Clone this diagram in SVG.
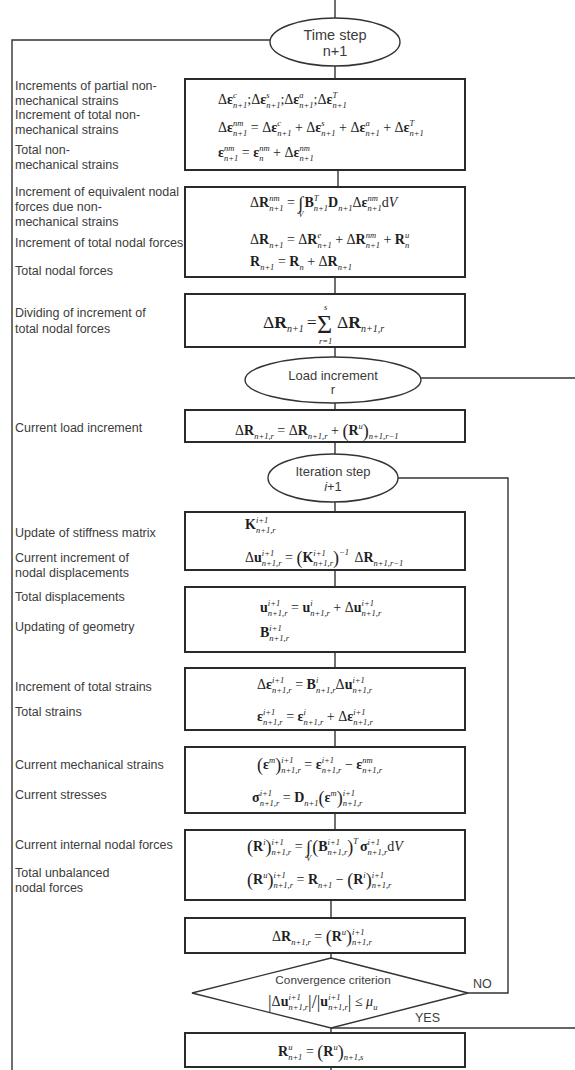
<svg xmlns="http://www.w3.org/2000/svg" width="575" height="1070" viewBox="0 0 575 1070">
<style>
.ln{fill:none;stroke:#333;stroke-width:1.4}
.bx{fill:#fff;stroke:#2a2a2a;stroke-width:2}
.el{fill:#fff;stroke:#333;stroke-width:1.4}
.lb{font-family:"Liberation Sans",Arial,sans-serif;font-size:12.5px;fill:#3c3c3c}
.et{font-family:"Liberation Sans",Arial,sans-serif;font-size:13px;fill:#3c3c3c;text-anchor:middle}
.fm{font-family:"Liberation Serif","Times New Roman",serif;font-size:14px;fill:#1e1e1e}
.b{font-weight:bold}
.s{font-size:8.5px;font-style:italic;font-weight:normal}
.s2{font-size:10px;font-style:italic;font-weight:normal}
.p{font-size:18px;font-weight:normal}
</style>
<rect width="575" height="1070" fill="#fff"/>
<g id="connectors">
<path class="ln" d="M335 0V18"/>
<path class="ln" d="M270 40H12V1070"/>
<path class="ln" d="M335 66V79"/>
<path class="ln" d="M338 170V187"/>
<path class="ln" d="M335 277V294"/>
<path class="ln" d="M335 347V357"/>
<path class="ln" d="M421 378H575"/>
<path class="ln" d="M335 403V410"/>
<path class="ln" d="M335 442V454"/>
<path class="ln" d="M398 478H508V993H468"/>
<path class="ln" d="M335 502V512"/>
<path class="ln" d="M335 570V587"/>
<path class="ln" d="M335 652V668"/>
<path class="ln" d="M335 730V747"/>
<path class="ln" d="M335 813V830"/>
<path class="ln" d="M331 900V918"/>
<path class="ln" d="M331 953V958"/>
<path class="ln" d="M331 1028H575"/>
<path class="ln" d="M331 1028V1033"/>
<path class="ln" d="M331 1067V1070"/>
<text class="lb" x="473" y="988">NO</text>
<text class="lb" x="415" y="1022">YES</text>
</g>
<g id="n-time">
<ellipse class="el" cx="335" cy="42" rx="65" ry="24"/>
<text class="et" x="335" y="40" style="font-size:14.5px">Time step</text>
<text class="et" x="335" y="56" style="font-size:14.5px">n+1</text>
</g>
<g id="n-strains">
<rect class="bx" x="185" y="79" width="280" height="91"/>
<text class="lb" x="15" y="90">Increments of partial non-</text>
<text class="lb" x="15" y="105">mechanical strains</text>
<text class="lb" x="15" y="119">Increment of total non-</text>
<text class="lb" x="15" y="134">mechanical strains</text>
<text class="lb" x="15" y="154">Total non-</text>
<text class="lb" x="15" y="169">mechanical strains</text>
<text class="fm" x="218" y="104">Δ<tspan class="b">ε</tspan><tspan class="s" dy="4">n+1</tspan><tspan class="s" dx="-14.24" dy="-10.5">c</tspan><tspan dx="10.47" dy="6.5">;Δ</tspan><tspan class="b">ε</tspan><tspan class="s" dy="4">n+1</tspan><tspan class="s" dx="-14.24" dy="-10.5">s</tspan><tspan dx="10.93" dy="6.5">;Δ</tspan><tspan class="b">ε</tspan><tspan class="s" dy="4">n+1</tspan><tspan class="s" dx="-14.24" dy="-10.5">a</tspan><tspan dx="9.99" dy="6.5">;Δ</tspan><tspan class="b">ε</tspan><tspan class="s" dy="4">n+1</tspan><tspan class="s" dx="-14.24" dy="-10.5">T</tspan></text>
<text class="fm" x="218" y="132">Δ<tspan class="b">ε</tspan><tspan class="s" dy="4">n+1</tspan><tspan class="s" dx="-14.24" dy="-10.5">nm</tspan><tspan dx="3.85" dy="6.5"> = Δ</tspan><tspan class="b">ε</tspan><tspan class="s" dy="4">n+1</tspan><tspan class="s" dx="-14.24" dy="-10.5">c</tspan><tspan dx="10.47" dy="6.5"> + Δ</tspan><tspan class="b">ε</tspan><tspan class="s" dy="4">n+1</tspan><tspan class="s" dx="-14.24" dy="-10.5">s</tspan><tspan dx="10.93" dy="6.5"> + Δ</tspan><tspan class="b">ε</tspan><tspan class="s" dy="4">n+1</tspan><tspan class="s" dx="-14.24" dy="-10.5">a</tspan><tspan dx="9.99" dy="6.5"> + Δ</tspan><tspan class="b">ε</tspan><tspan class="s" dy="4">n+1</tspan><tspan class="s" dx="-14.24" dy="-10.5">T</tspan></text>
<text class="fm" x="218" y="157"><tspan class="b">ε</tspan><tspan class="s" dy="4">n+1</tspan><tspan class="s" dx="-14.24" dy="-10.5">nm</tspan><tspan dx="3.85" dy="6.5"> = </tspan><tspan class="b">ε</tspan><tspan class="s" dy="4">n</tspan><tspan class="s" dx="-4.25" dy="-10.5">nm</tspan><tspan dy="6.5"> + Δ</tspan><tspan class="b">ε</tspan><tspan class="s" dy="4">n+1</tspan><tspan class="s" dx="-14.24" dy="-10.5">nm</tspan></text>
</g>
<g id="n-forces">
<rect class="bx" x="185" y="187" width="280" height="90"/>
<text class="lb" x="15" y="196">Increment of equivalent nodal</text>
<text class="lb" x="15" y="211">forces due non-</text>
<text class="lb" x="15" y="226">mechanical strains</text>
<text class="lb" x="15" y="247">Increment of total nodal forces</text>
<text class="lb" x="15" y="275">Total nodal forces</text>
<text class="fm" x="250" y="207">Δ<tspan class="b">R</tspan><tspan class="s" dy="4">n+1</tspan><tspan class="s" dx="-14.24" dy="-10.5">nm</tspan><tspan dx="3.85" dy="6.5"> = </tspan><tspan class="p" dy="2">∫</tspan><tspan class="s" dx="-5" dy="8">V</tspan><tspan class="b" dx="1" dy="-10">B</tspan><tspan class="s" dy="4">n+1</tspan><tspan class="s" dx="-14.24" dy="-10.5">T</tspan><tspan class="b" dx="9.51" dy="6.5">D</tspan><tspan class="s" dy="4">n+1</tspan><tspan dy="-4">Δ</tspan><tspan class="b">ε</tspan><tspan class="s" dy="4">n+1</tspan><tspan class="s" dx="-14.24" dy="-10.5">nm</tspan><tspan dx="3.85" dy="6.5">d</tspan><tspan font-style="italic">V</tspan></text>
<text class="fm" x="250" y="244">Δ<tspan class="b">R</tspan><tspan class="s" dy="4">n+1</tspan><tspan dy="-4"> = Δ</tspan><tspan class="b">R</tspan><tspan class="s" dy="4">n+1</tspan><tspan class="s" dx="-14.24" dy="-10.5">e</tspan><tspan dx="10.47" dy="6.5"> + Δ</tspan><tspan class="b">R</tspan><tspan class="s" dy="4">n+1</tspan><tspan class="s" dx="-14.24" dy="-10.5">nm</tspan><tspan dx="3.85" dy="6.5"> + </tspan><tspan class="b">R</tspan><tspan class="s" dy="4">n</tspan><tspan class="s" dx="-4.25" dy="-10.5">u</tspan></text>
<text class="fm" x="250" y="266"><tspan class="b">R</tspan><tspan class="s" dy="4">n+1</tspan><tspan dy="-4"> = </tspan><tspan class="b">R</tspan><tspan class="s" dy="4">n</tspan><tspan dy="-4"> + Δ</tspan><tspan class="b">R</tspan><tspan class="s" dy="4">n+1</tspan></text>
</g>
<g id="n-divide">
<rect class="bx" x="185" y="294" width="280" height="53"/>
<text class="lb" x="15" y="317">Dividing of increment of</text>
<text class="lb" x="15" y="333">total nodal forces</text>
<text class="fm" x="263" y="328" style="font-size:17.5px">Δ<tspan class="b">R</tspan><tspan class="s2" dy="4">n+1</tspan><tspan dx="3" dy="-4">=</tspan></text>
<text class="fm" x="317" y="333" style="font-size:26px">Σ</text>
<text class="fm s" x="324" y="310">s</text>
<text class="fm s" x="319" y="344">r=1</text>
<text class="fm" x="337" y="328" style="font-size:17.5px">Δ<tspan class="b">R</tspan><tspan class="s2" dy="4">n+1,r</tspan></text>
</g>
<g id="n-load">
<ellipse class="el" cx="333" cy="380" rx="88" ry="23"/>
<text class="et" x="333" y="380">Load increment</text>
<text class="et" x="333" y="394">r</text>
</g>
<g id="n-current-load">
<rect class="bx" x="185" y="410" width="280" height="32"/>
<text class="lb" x="15" y="432">Current load increment</text>
<text class="fm" x="235" y="435">Δ<tspan class="b">R</tspan><tspan class="s" dy="4">n+1,r</tspan><tspan dy="-4"> = Δ</tspan><tspan class="b">R</tspan><tspan class="s" dy="4">n+1,r</tspan><tspan dy="-4"> + </tspan><tspan class="p" dy="1.5">(</tspan><tspan class="b" dy="-1.5">R</tspan><tspan class="s" dy="-6.5">u</tspan><tspan class="p" dy="8">)</tspan><tspan class="s" dy="2.5">n+1,r−1</tspan></text>
</g>
<g id="n-iter">
<ellipse class="el" cx="333" cy="478" rx="65" ry="24"/>
<text class="et" x="333" y="476">Iteration step</text>
<text class="et" x="333" y="491"><tspan font-style="italic">i</tspan>+1</text>
</g>
<g id="n-stiff">
<rect class="bx" x="185" y="512" width="280" height="58"/>
<text class="lb" x="15" y="537">Update of stiffness matrix</text>
<text class="lb" x="15" y="562">Current increment of</text>
<text class="lb" x="15" y="577">nodal displacements</text>
<text class="fm" x="245" y="529"><tspan class="b">K</tspan><tspan class="s" dy="4">n+1,r</tspan><tspan class="s" dx="-19.67" dy="-10.5">i+1</tspan></text>
<text class="fm" x="245" y="562">Δ<tspan class="b">u</tspan><tspan class="s" dy="4">n+1,r</tspan><tspan class="s" dx="-19.67" dy="-10.5">i+1</tspan><tspan dx="7.32" dy="6.5"> = </tspan><tspan class="p" dy="1.5">(</tspan><tspan class="b" dy="-1.5">K</tspan><tspan class="s" dy="4">n+1,r</tspan><tspan class="s" dx="-19.67" dy="-10.5">i+1</tspan><tspan class="p" dx="7.32" dy="8">)</tspan><tspan class="s" dy="-9">−1</tspan><tspan dx="2" dy="7.5"> Δ</tspan><tspan class="b">R</tspan><tspan class="s" dy="4">n+1,r−1</tspan></text>
</g>
<g id="n-displ">
<rect class="bx" x="185" y="587" width="280" height="65"/>
<text class="lb" x="15" y="601">Total displacements</text>
<text class="lb" x="15" y="631">Updating of geometry</text>
<text class="fm" x="260" y="612"><tspan class="b">u</tspan><tspan class="s" dy="4">n+1,r</tspan><tspan class="s" dx="-19.67" dy="-10.5">i+1</tspan><tspan dx="7.32" dy="6.5"> = </tspan><tspan class="b">u</tspan><tspan class="s" dy="4">n+1,r</tspan><tspan class="s" dx="-19.67" dy="-10.5">i</tspan><tspan dx="17.31" dy="6.5"> + Δ</tspan><tspan class="b">u</tspan><tspan class="s" dy="4">n+1,r</tspan><tspan class="s" dx="-19.67" dy="-10.5">i+1</tspan></text>
<text class="fm" x="260" y="637"><tspan class="b">B</tspan><tspan class="s" dy="4">n+1,r</tspan><tspan class="s" dx="-19.67" dy="-10.5">i+1</tspan></text>
</g>
<g id="n-tstrain">
<rect class="bx" x="185" y="668" width="280" height="62"/>
<text class="lb" x="15" y="691">Increment of total strains</text>
<text class="lb" x="15" y="716">Total strains</text>
<text class="fm" x="257" y="689">Δ<tspan class="b">ε</tspan><tspan class="s" dy="4">n+1,r</tspan><tspan class="s" dx="-19.67" dy="-10.5">i+1</tspan><tspan dx="7.32" dy="6.5"> = </tspan><tspan class="b">B</tspan><tspan class="s" dy="4">n+1,r</tspan><tspan class="s" dx="-19.67" dy="-10.5">i</tspan><tspan dx="17.31" dy="6.5">Δ</tspan><tspan class="b">u</tspan><tspan class="s" dy="4">n+1,r</tspan><tspan class="s" dx="-19.67" dy="-10.5">i+1</tspan></text>
<text class="fm" x="257" y="721"><tspan class="b">ε</tspan><tspan class="s" dy="4">n+1,r</tspan><tspan class="s" dx="-19.67" dy="-10.5">i+1</tspan><tspan dx="7.32" dy="6.5"> = </tspan><tspan class="b">ε</tspan><tspan class="s" dy="4">n+1,r</tspan><tspan class="s" dx="-19.67" dy="-10.5">i</tspan><tspan dx="17.31" dy="6.5"> + Δ</tspan><tspan class="b">ε</tspan><tspan class="s" dy="4">n+1,r</tspan><tspan class="s" dx="-19.67" dy="-10.5">i+1</tspan></text>
</g>
<g id="n-stress">
<rect class="bx" x="185" y="747" width="280" height="66"/>
<text class="lb" x="15" y="769">Current mechanical strains</text>
<text class="lb" x="15" y="799">Current stresses</text>
<text class="fm" x="257" y="769"><tspan class="p" dy="1.5">(</tspan><tspan class="b" dy="-1.5">ε</tspan><tspan class="s" dy="-6.5">m</tspan><tspan class="p" dy="8">)</tspan><tspan class="s" dy="2.5">n+1,r</tspan><tspan class="s" dx="-19.67" dy="-10.5">i+1</tspan><tspan dx="7.32" dy="6.5"> = </tspan><tspan class="b">ε</tspan><tspan class="s" dy="4">n+1,r</tspan><tspan class="s" dx="-19.67" dy="-10.5">i+1</tspan><tspan dx="7.32" dy="6.5"> − </tspan><tspan class="b">ε</tspan><tspan class="s" dy="4">n+1,r</tspan><tspan class="s" dx="-19.67" dy="-10.5">nm</tspan></text>
<text class="fm" x="252" y="802"><tspan class="b">σ</tspan><tspan class="s" dy="4">n+1,r</tspan><tspan class="s" dx="-19.67" dy="-10.5">i+1</tspan><tspan dx="7.32" dy="6.5"> = </tspan><tspan class="b">D</tspan><tspan class="s" dy="4">n+1</tspan><tspan class="p" dy="-2.5">(</tspan><tspan class="b" dy="-1.5">ε</tspan><tspan class="s" dy="-6.5">m</tspan><tspan class="p" dy="8">)</tspan><tspan class="s" dy="2.5">n+1,r</tspan><tspan class="s" dx="-19.67" dy="-10.5">i+1</tspan></text>
</g>
<g id="n-internal">
<rect class="bx" x="185" y="830" width="280" height="70"/>
<text class="lb" x="15" y="849">Current internal nodal forces</text>
<text class="lb" x="15" y="877">Total unbalanced</text>
<text class="lb" x="15" y="892">nodal forces</text>
<text class="fm" x="247" y="851"><tspan class="p" dy="1.5">(</tspan><tspan class="b" dy="-1.5">R</tspan><tspan class="s" dy="-6.5">i</tspan><tspan class="p" dy="8">)</tspan><tspan class="s" dy="2.5">n+1,r</tspan><tspan class="s" dx="-19.67" dy="-10.5">i+1</tspan><tspan dx="7.32" dy="6.5"> = </tspan><tspan class="p" dy="2">∫</tspan><tspan class="s" dx="-5" dy="8">V</tspan><tspan class="p" dx="1" dy="-8.5">(</tspan><tspan class="b" dy="-1.5">B</tspan><tspan class="s" dy="4">n+1,r</tspan><tspan class="s" dx="-19.67" dy="-10.5">i+1</tspan><tspan class="p" dx="7.32" dy="8">)</tspan><tspan class="s" dy="-9">T</tspan><tspan class="b" dx="2" dy="7.5">σ</tspan><tspan class="s" dy="4">n+1,r</tspan><tspan class="s" dx="-19.67" dy="-10.5">i+1</tspan><tspan dx="7.32" dy="6.5">d</tspan><tspan font-style="italic">V</tspan></text>
<text class="fm" x="247" y="884"><tspan class="p" dy="1.5">(</tspan><tspan class="b" dy="-1.5">R</tspan><tspan class="s" dy="-6.5">u</tspan><tspan class="p" dy="8">)</tspan><tspan class="s" dy="2.5">n+1,r</tspan><tspan class="s" dx="-19.67" dy="-10.5">i+1</tspan><tspan dx="7.32" dy="6.5"> = </tspan><tspan class="b">R</tspan><tspan class="s" dy="4">n+1</tspan><tspan dy="-4"> − </tspan><tspan class="p" dy="1.5">(</tspan><tspan class="b" dy="-1.5">R</tspan><tspan class="s" dy="-6.5">i</tspan><tspan class="p" dy="8">)</tspan><tspan class="s" dy="2.5">n+1,r</tspan><tspan class="s" dx="-19.67" dy="-10.5">i+1</tspan></text>
</g>
<g id="n-unbal">
<rect class="bx" x="185" y="918" width="280" height="35"/>
<text class="fm" x="272" y="941">Δ<tspan class="b">R</tspan><tspan class="s" dy="4">n+1,r</tspan><tspan dy="-4"> = </tspan><tspan class="p" dy="1.5">(</tspan><tspan class="b" dy="-1.5">R</tspan><tspan class="s" dy="-6.5">u</tspan><tspan class="p" dy="8">)</tspan><tspan class="s" dy="2.5">n+1,r</tspan><tspan class="s" dx="-19.67" dy="-10.5">i+1</tspan></text>
</g>
<g id="n-conv">
<polygon class="el" points="331,958 468,993 331,1028 192,993"/>
<text class="et" x="333" y="984" style="font-size:11.8px">Convergence criterion</text>
<text class="fm" x="268" y="1006"><tspan class="p" dy="1.5">|</tspan><tspan dy="-1.5">Δ</tspan><tspan class="b">u</tspan><tspan class="s" dy="4">n+1,r</tspan><tspan class="s" dx="-19.67" dy="-10.5">i+1</tspan><tspan class="p" dx="7.32" dy="8">|</tspan><tspan class="p">/</tspan><tspan class="p">|</tspan><tspan class="b" dy="-1.5">u</tspan><tspan class="s" dy="4">n+1,r</tspan><tspan class="s" dx="-19.67" dy="-10.5">i+1</tspan><tspan class="p" dx="7.32" dy="8">|</tspan><tspan dy="-1.5"> ≤ </tspan><tspan font-style="italic">μ</tspan><tspan class="s" dy="4">u</tspan></text>
</g>
<g id="n-final">
<rect class="bx" x="185" y="1033" width="280" height="34"/>
<text class="fm" x="278" y="1056"><tspan class="b">R</tspan><tspan class="s" dy="4">n+1</tspan><tspan class="s" dx="-14.24" dy="-10.5">u</tspan><tspan dx="9.99" dy="6.5"> = </tspan><tspan class="p" dy="1.5">(</tspan><tspan class="b" dy="-1.5">R</tspan><tspan class="s" dy="-6.5">u</tspan><tspan class="p" dy="8">)</tspan><tspan class="s" dy="2.5">n+1,s</tspan></text>
</g>
</svg>
